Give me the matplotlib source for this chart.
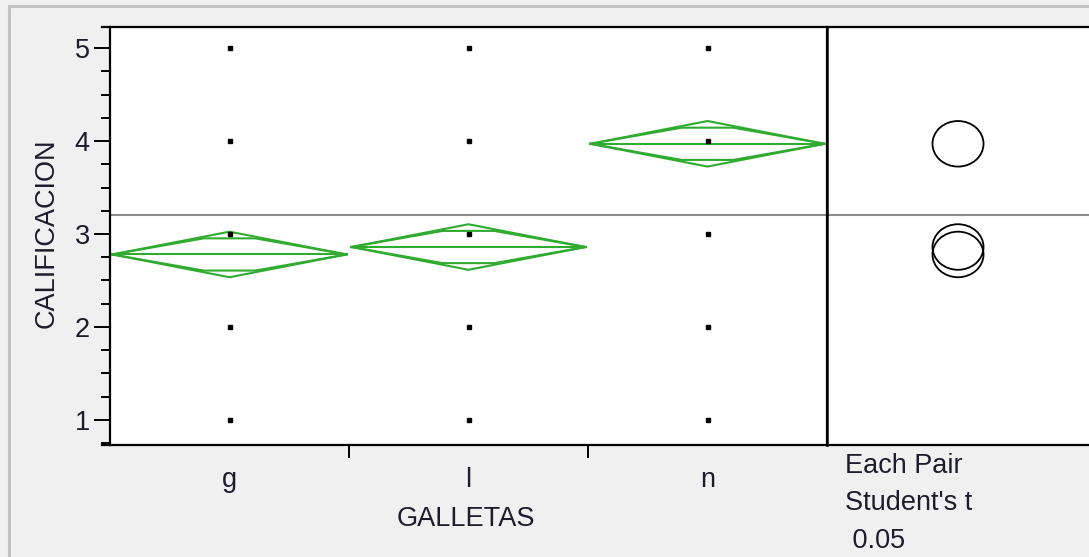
import numpy as np
import matplotlib
matplotlib.use("Agg")
import matplotlib.pyplot as plt
from matplotlib.patches import Ellipse, Rectangle
from matplotlib.lines import Line2D
from matplotlib.ticker import MultipleLocator, FixedLocator

# ---- data -------------------------------------------------------------
groups = ["g", "l", "n"]
group_means = [2.78, 2.86, 3.97]
ci_half = [0.245, 0.245, 0.245]          # 95% CI half-width of each mean
scores = [1, 2, 3, 4, 5]                 # observed ratings in every group
y_ticks = [1, 2, 3, 4, 5]
footer_lines = ["Each Pair", "Student's t", " 0.05"]

# ---- style ------------------------------------------------------------
W, H = 1089, 557
BG = "#f0f0f0"
GREEN = "#2fab2f"
TXT = "#1c1c2c"
FONT = "Liberation Sans"
FS = 19.5

plt.rcParams["font.family"] = [FONT, "DejaVu Sans"]

fig = plt.figure(figsize=(W / 100, H / 100), dpi=100, facecolor=BG)

def fx(px):
    return px / W

def fy(py):
    return 1 - py / H

left, right, top, bottom = 110, 827, 27, 445
ax = fig.add_axes([fx(left), fy(bottom), fx(right - left), fy(top) - fy(bottom)])
axr = fig.add_axes([fx(right), fy(bottom), fx(W - right), fy(top) - fy(bottom)], sharey=ax)

ylo, yhi = 0.731, 5.226
ax.set_ylim(ylo, yhi)
ax.set_xlim(0, len(groups))
axr.set_xlim(0, 1)

# outer panel frame
fig.patches.append(Rectangle((fx(9), fy(H + 20)), 1.5, fy(6) - fy(H + 20),
                             transform=fig.transFigure, fill=False,
                             edgecolor="#c2c2c2", lw=2.2, zorder=0))

for a in (ax, axr):
    a.set_facecolor("white")
    for s in a.spines.values():
        s.set_color("black")
        s.set_linewidth(1.6)
axr.spines["right"].set_visible(False)
axr.spines["left"].set_linewidth(1.8)
axr.spines["left"].set_zorder(5)

# top/bottom frame lines continue a few pixels left of the y axis
for yv in (0, 1):
    ax.add_line(Line2D([-8 / (right - left), 0], [yv, yv], transform=ax.transAxes,
                       color="black", lw=1.6, clip_on=False))

# ---- y axis -------------------------------------------------------------
ax.yaxis.set_major_locator(FixedLocator(y_ticks))
ax.yaxis.set_minor_locator(MultipleLocator(0.25))
ax.tick_params(axis="y", which="major", length=11.5, width=1.4, pad=3,
               labelsize=FS, labelcolor=TXT, color="black")
ax.tick_params(axis="y", which="minor", length=6.5, width=1.4, color="black")
axr.tick_params(axis="y", which="both", left=False, labelleft=False)

# ---- x axis: boundary ticks, labels at group centres --------------------
centres = np.arange(len(groups)) + 0.5
ax.set_xticks(np.arange(1, len(groups)))
ax.set_xticklabels([])
ax.set_xticks(centres, minor=True)
ax.set_xticklabels(groups, minor=True)
ax.tick_params(axis="x", which="major", length=9.5, width=1.4, color="black")
ax.tick_params(axis="x", which="minor", length=0, pad=16, labelsize=FS, labelcolor=TXT)
axr.tick_params(axis="x", which="both", bottom=False, labelbottom=False)

# ---- grand mean line ----------------------------------------------------
grand = float(np.mean(group_means))
for a in (ax, axr):
    a.axhline(grand, color="#8a8a8a", lw=1.5, zorder=1)

# ---- data points ----------------------------------------------------------
for c in centres:
    ax.plot(np.full(len(scores), c), scores, linestyle="none", marker="s",
            markersize=3.2, color="black", zorder=4)

# ---- means diamonds -------------------------------------------------------
hw = 0.49
inner = 0.22
LW_D = 1.5
for c, m, ci in zip(centres, group_means, ci_half):
    ax.plot([c - hw, c, c + hw, c, c - hw], [m, m + ci, m, m - ci, m],
            color=GREEN, lw=LW_D, zorder=3)
    ax.plot([c - hw, c + hw], [m, m], color=GREEN, lw=LW_D, zorder=3)
    ov = ci / np.sqrt(2)
    for sgn in (1, -1):
        ax.plot([c - hw, c - inner * hw, c + inner * hw, c + hw],
                [m, m + sgn * ov, m + sgn * ov, m],
                color=GREEN, lw=LW_D, zorder=3)

# ---- comparison circles ---------------------------------------------------
fig.canvas.draw()
bb = axr.get_window_extent()
px_per_y = bb.height / (yhi - ylo)
aspect = 1.12
for m, r in zip(group_means, ci_half):
    w = 2 * r * px_per_y * aspect / bb.width
    axr.add_patch(Ellipse((0.5, m), w, 2 * r, fill=False, edgecolor="black",
                          lw=1.3, zorder=3))

# ---- titles ---------------------------------------------------------------
fig.text(fx(47), fy(233), "CALIFICACION", rotation=90, ha="center", va="center",
         fontsize=FS, color=TXT)
fig.text(fx(466), fy(526), "GALLETAS", ha="center", va="baseline",
         fontsize=FS, color=TXT)
for i, line in enumerate(footer_lines):
    fig.text(fx(845), fy(473 + 37.5 * i), line, ha="left", va="baseline",
             fontsize=FS, color=TXT)

fig.savefig("out.png", dpi=100, facecolor=BG)
